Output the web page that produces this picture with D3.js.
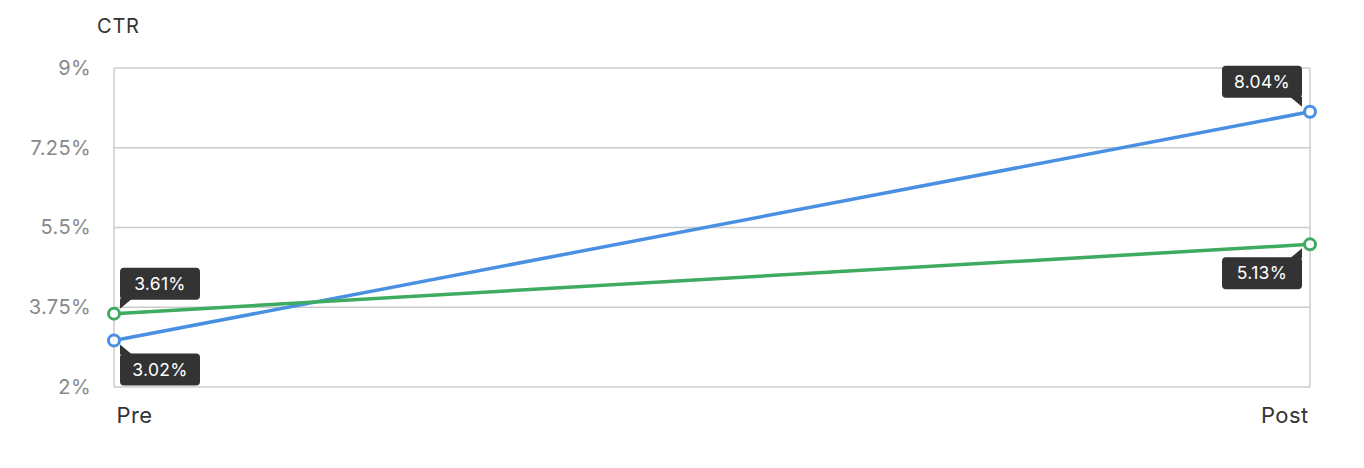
<!DOCTYPE html>
<html>
<head>
<meta charset="utf-8">
<script src="https://cdn.jsdelivr.net/npm/d3@7"></script>
<style>
  html, body { margin: 0; padding: 0; background: #fff; }
  svg { display: block; font-family: Inter, "Noto Sans", sans-serif; }
</style>
</head>
<body>
<svg id="chart" width="1364" height="468"></svg>
<script>
const categories = ["Pre", "Post"];
const seriesBlue = [3.02, 8.04];
const seriesGreen = [3.61, 5.13];
const yTicks = [2, 3.75, 5.5, 7.25, 9];
const yTickLabels = ["2%", "3.75%", "5.5%", "7.25%", "9%"];
const yTitle = "CTR";

const series = [
  { name: "blue", values: seriesBlue, color: "#4a90e2" },
  { name: "green", values: seriesGreen, color: "#3fab60" }
];

const svg = d3.select("#chart");
const plotL = 114, plotR = 1310, plotT = 68, plotB = 387;

const x = d3.scalePoint().domain(categories).range([plotL, plotR]);
const y = d3.scaleLinear().domain([2, 9]).range([plotB, plotT]);

// grid lines
const gridG = svg.append("g");
gridG.selectAll("line.h").data(yTicks).enter().append("line")
  .attr("x1", plotL).attr("x2", plotR)
  .attr("y1", d => y(d)).attr("y2", d => y(d))
  .attr("stroke", "#cccccc").attr("stroke-width", 1.5);
gridG.selectAll("line.v").data(categories).enter().append("line")
  .attr("x1", d => x(d)).attr("x2", d => x(d))
  .attr("y1", plotT).attr("y2", plotB)
  .attr("stroke", "#cccccc").attr("stroke-width", 1.5);

// y axis labels
const yAxis = d3.axisLeft(y).tickValues(yTicks)
  .tickFormat((d, i) => yTickLabels[i]).tickSize(0).tickPadding(23);
const yG = svg.append("g").attr("transform", `translate(${plotL},0)`).call(yAxis);
yG.select(".domain").remove();
yG.selectAll("text").attr("fill", "#888").style("font-size", "20px")
  .style("letter-spacing", "0.4px")
  .style("font-family", "Inter, 'Noto Sans', sans-serif");

// y title
svg.append("text").attr("x", 97).attr("y", 33).text(yTitle)
  .attr("fill", "#333").style("font-size", "20px").style("letter-spacing", "0.8px");

// x labels
const xAxis = d3.axisBottom(x).tickSize(0).tickPadding(20);
const xG = svg.append("g").attr("transform", `translate(0,${plotB})`).call(xAxis);
xG.select(".domain").remove();
xG.selectAll("text").attr("fill", "#333").style("font-size", "22px")
  .style("letter-spacing", "0.4px")
  .style("font-family", "Inter, 'Noto Sans', sans-serif")
  .attr("text-anchor", (d, i) => i === 0 ? "start" : "end")
  .attr("dx", (d, i) => i === 0 ? "2" : "-2");

// lines
const line = d3.line().x((d, i) => x(categories[i])).y(d => y(d));
svg.selectAll("path.series").data(series).enter().append("path")
  .attr("d", d => line(d.values))
  .attr("fill", "none").attr("stroke", d => d.color).attr("stroke-width", 3.5);

// points
series.forEach(s => {
  svg.selectAll(null).data(s.values).enter().append("circle")
    .attr("cx", (d, i) => x(categories[i])).attr("cy", d => y(d))
    .attr("r", 5.5).attr("fill", "#fff").attr("stroke", s.color).attr("stroke-width", 3);
});

// value labels
const bw = 80, bh = 32;
const labels = [];
categories.forEach((c, i) => {
  const vals = series.map(s => s.values[i]);
  const maxV = Math.max(...vals);
  series.forEach(s => {
    const v = s.values[i];
    labels.push({ v, px: x(c), py: y(v), side: i === 0 ? "right" : "left", pos: v === maxV ? "above" : "below" });
  });
});

const fmt = v => v.toFixed(2) + "%";
labels.forEach(L => {
  const g = svg.append("g");
  const bx = L.side === "right" ? L.px + 6 : L.px - 8 - bw;
  const by = L.pos === "above" ? L.py - 14 - bh : L.py + 13;
  g.append("rect").attr("x", bx).attr("y", by).attr("width", bw).attr("height", bh)
    .attr("rx", 4).attr("fill", "#333");
  const cx = L.side === "right" ? bx : bx + bw;
  const dir = L.side === "right" ? 1 : -1;
  let pts;
  if (L.pos === "above") {
    const yb = by + bh;
    pts = [[cx, yb - 1], [cx + dir * 12, yb - 1], [cx, yb + 9]];
  } else {
    pts = [[cx, by + 1], [cx + dir * 12, by + 1], [cx, by - 9]];
  }
  g.append("path").attr("d", d3.line()(pts) + "Z").attr("fill", "#333");
  g.append("text").attr("x", bx + bw / 2).attr("y", by + bh / 2 + 6)
    .attr("text-anchor", "middle").attr("fill", "#fff").style("font-size", "17.5px")
    .style("letter-spacing", "0.3px")
    .text(fmt(L.v));
});
</script>
</body>
</html>
